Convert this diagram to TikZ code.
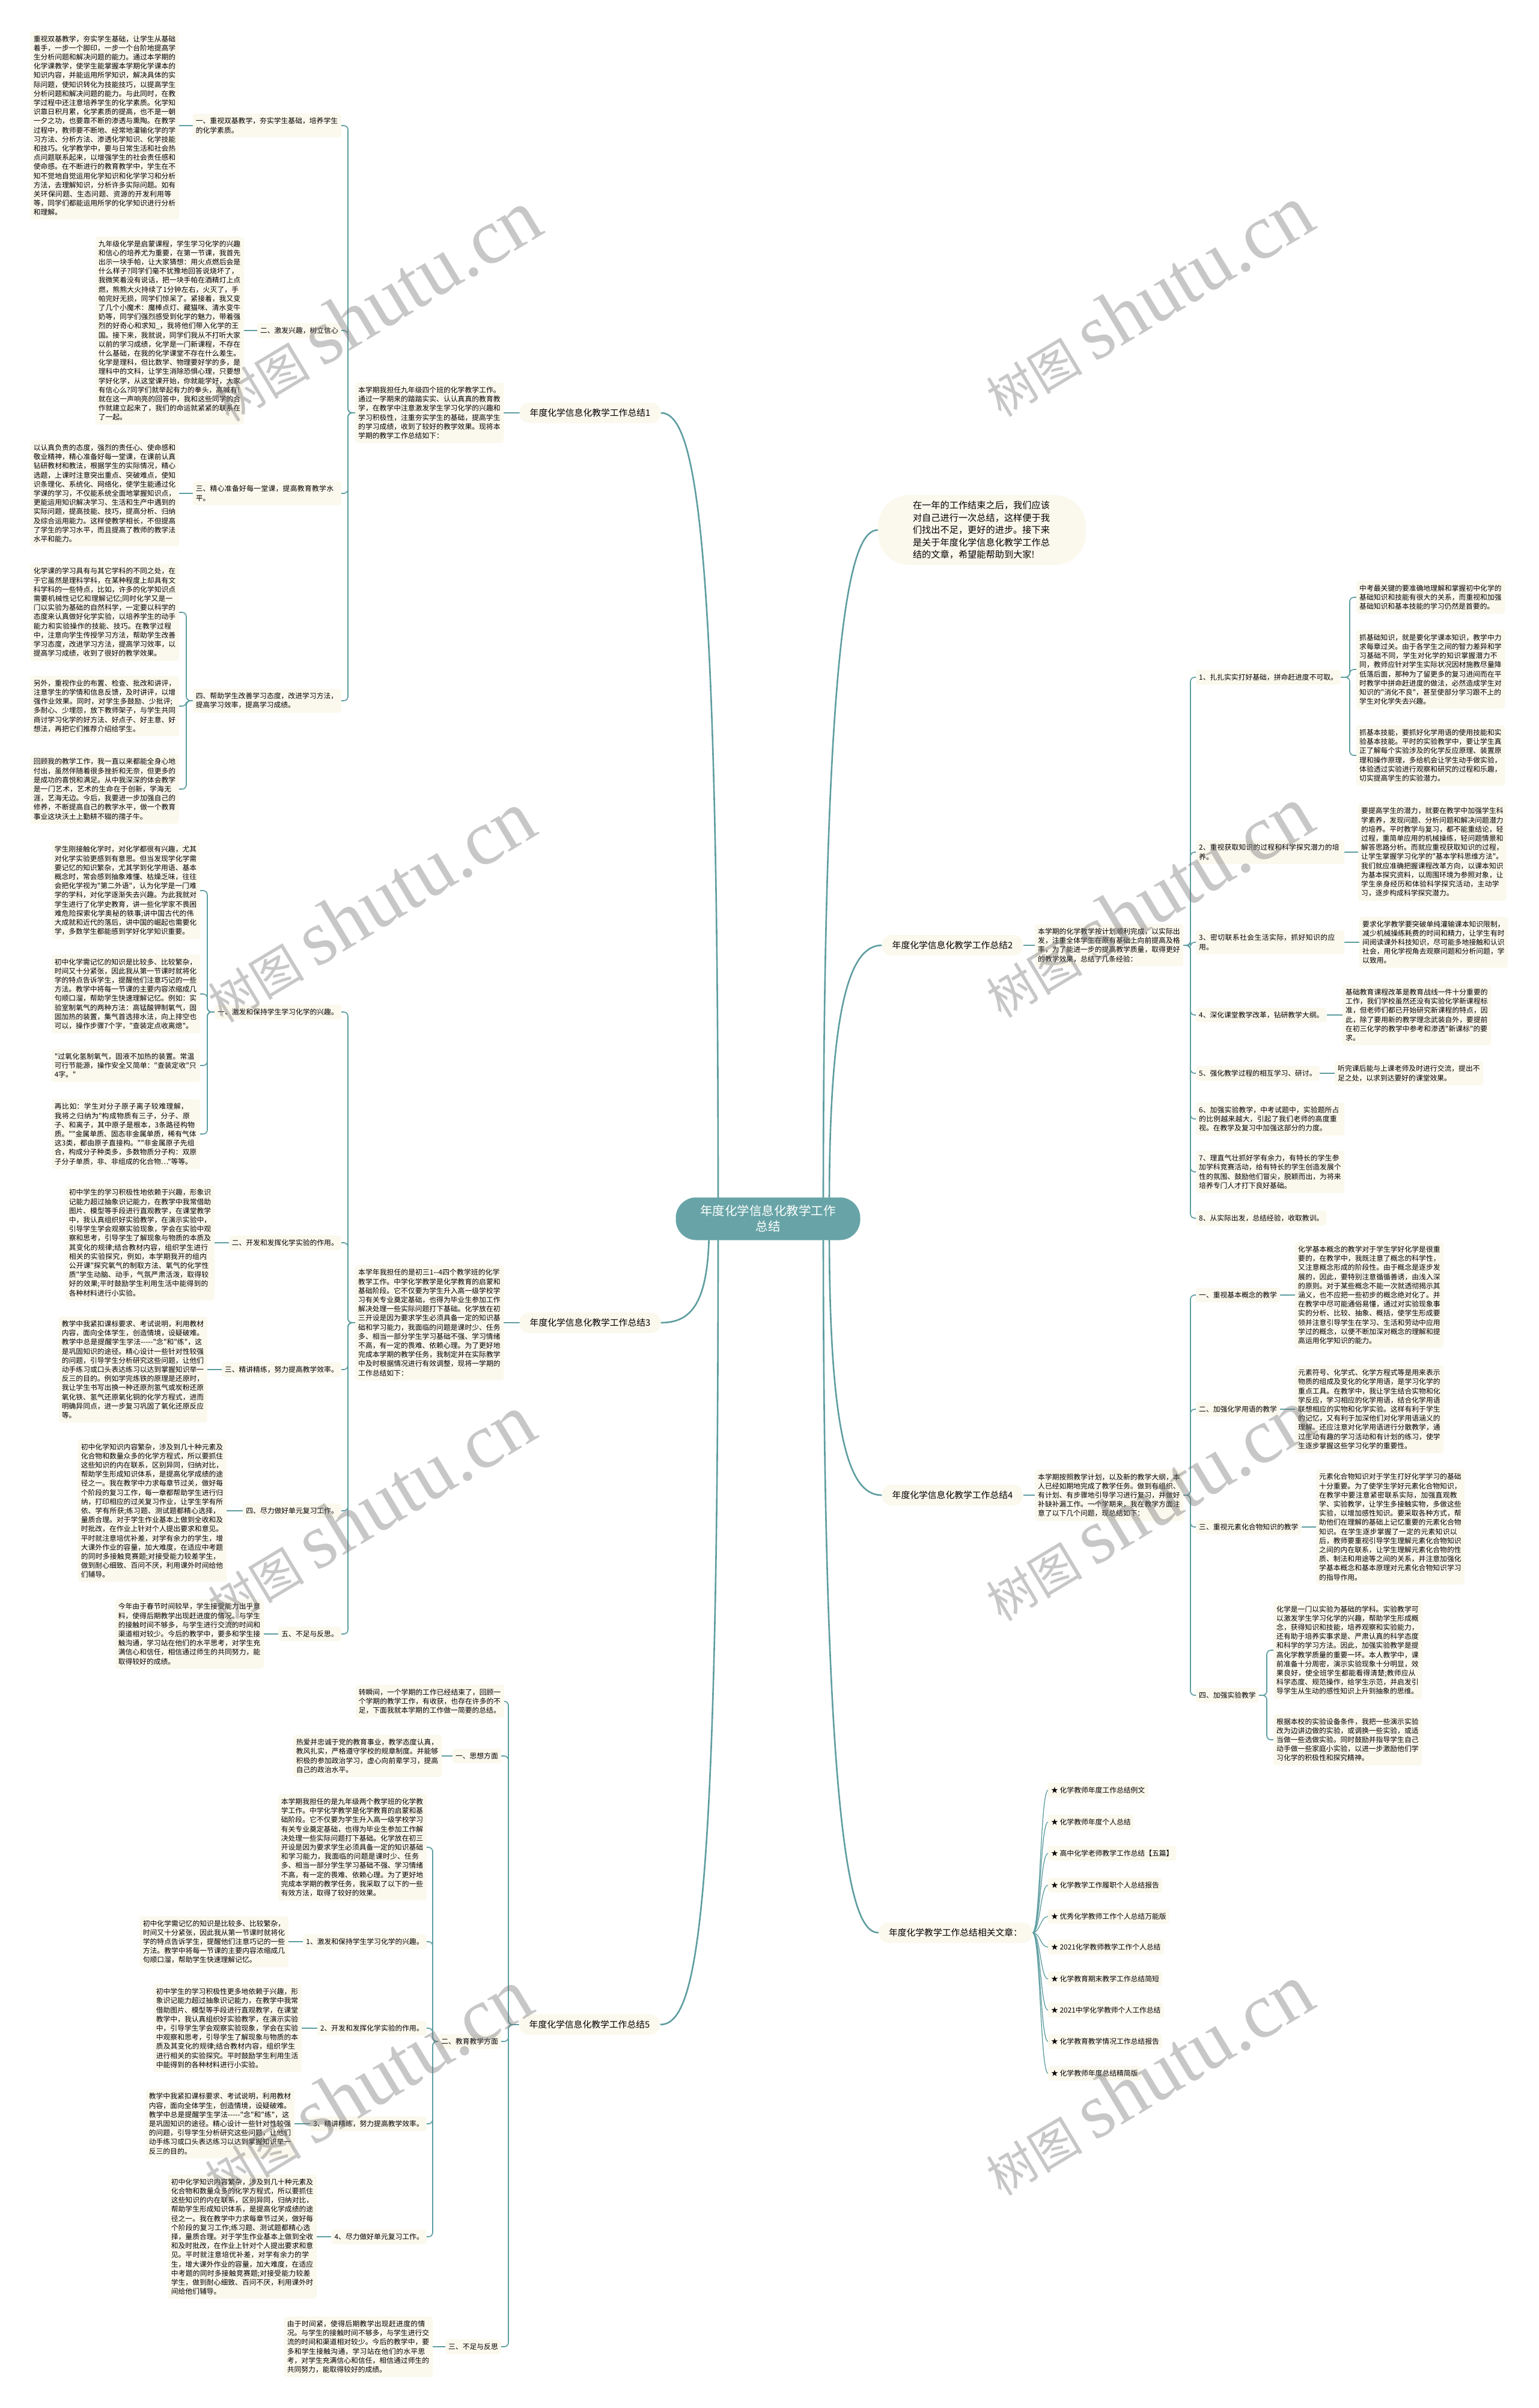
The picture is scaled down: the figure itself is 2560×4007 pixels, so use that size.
\documentclass[tikz,border=0pt]{standalone}
\usepackage{fontspec}
\newfontfamily\cjk[Ligatures=TeXOff]{Noto Sans CJK SC}
\newfontfamily\wmserif[Ligatures=TeXOff]{Liberation Serif}
\usetikzlibrary{backgrounds}
\XeTeXlinebreaklocale "zh"
\XeTeXlinebreakskip=0pt plus 1pt
\definecolor{linec}{RGB}{94,157,160}
\definecolor{boxf}{RGB}{251,248,237}
\definecolor{rootf}{RGB}{104,164,167}
\newcommand\bodyf{\cjk\fontsize{11.8}{15.2}\selectfont}
\newcommand\blabf{\cjk\fontsize{14.8}{18}\selectfont}
\newcommand\EdgeL[3]{\draw[conn] (#1.west) -- (#1.west -| #3) |- (#2.east);}
\newcommand\EdgeR[3]{\draw[conn] (#1.east) -- (#1.east -| #3) |- (#2.west);}
\newcommand\LineL[2]{\draw[conn] (#1.west) -- (#2.east);}
\newcommand\LineR[2]{\draw[conn] (#1.east) -- (#2.west);}
\tikzset{
  conn/.style={draw=linec, line width=1.7pt, rounded corners=7pt},
  mainc/.style={draw=linec, line width=2.6pt},
  box/.style={fill=boxf, rounded corners=4pt, inner xsep=5pt, inner ysep=6.5pt, font=\bodyf, align=left},
  txt/.style={box, text width=237pt},
  lab/.style={box},
  labw/.style={box, text width=237pt},
  blab/.style={fill=boxf, rounded corners=16pt, inner xsep=17pt, minimum height=34pt, font=\blabf},
  rootn/.style={fill=rootf, text=white, rounded corners=34pt, minimum width=307pt, minimum height=71pt, align=center, font={\cjk\fontsize{20.5}{26}\selectfont}},
  wm/.style={text=black!55, opacity=0.40, anchor=west, rotate=31, inner sep=0pt}
}
\begin{document}
\begin{tikzpicture}[x=1pt,y=-1pt]
\useasboundingbox (0,0) rectangle (2560,4007);

% ---------- root and first level ----------
\node[rootn] (root) at (1278,2028) {年度化学信息化教学工作\\总结};
\node[fill=boxf, rounded corners=52pt, minimum height=116pt, inner xsep=58pt, text width=230pt, align=left, font={\cjk\fontsize{15.2}{20.5}\selectfont}] (intro) at (1634,882)
 {在一年的工作结束之后，我们应该\\对自己进行一次总结，这样便于我\\们找出不足，更好的进步。接下来\\是关于年度化学信息化教学工作总\\结的文章，希望能帮助到大家!};
\node[blab] (B1) at (982,687) {年度化学信息化教学工作总结1};
\node[blab] (B2) at (1585,1573) {年度化学信息化教学工作总结2};
\node[blab] (B3) at (982,2201) {年度化学信息化教学工作总结3};
\node[blab] (B4) at (1585,2488) {年度化学信息化教学工作总结4};
\node[blab] (B5) at (981,3369) {年度化学信息化教学工作总结5};
\node[blab] (R) at (1590,3216) {年度化学教学工作总结相关文章：};

% ---------- branch 1 ----------
\coordinate (s1) at (579,0);
\coordinate (s14) at (310,0);
\node[txt, anchor=west] (I1) at (591,687) {本学期我担任九年级四个班的化学教学工作。通过一学期来的踏踏实实、认认真真的教育教学，在教学中注意激发学生学习化学的兴趣和学习积极性，注重夯实学生的基础，提高学生的学习成绩，收到了较好的教学效果。现将本学期的教学工作总结如下：};
\node[labw, anchor=east] (L11) at (568,209) {一、重视双基教学，夯实学生基础，培养学生的化学素质。};
\node[txt, anchor=east] (T11) at (298,209) {重视双基教学，夯实学生基础，让学生从基础着手，一步一个脚印，一步一个台阶地提高学生分析问题和解决问题的能力。通过本学期的化学课教学，使学生能掌握本学期化学课本的知识内容，并能运用所学知识，解决具体的实际问题，使知识转化为技能技巧，以提高学生分析问题和解决问题的能力。与此同时，在教学过程中还注意培养学生的化学素质。化学知识靠日积月累，化学素质的提高，也不是一朝一夕之功，也要靠不断的渗透与熏陶。在教学过程中，教师要不断地、经常地灌输化学的学习方法、分析方法、渗透化学知识、化学技能和技巧。化学教学中，要与日常生活和社会热点问题联系起来，以增强学生的社会责任感和使命感。在不断进行的教育教学中，学生在不知不觉地自觉运用化学知识和化学学习和分析方法，去理解知识，分析许多实际问题。如有关环保问题、生态问题、资源的开发利用等等，同学们都能运用所学的化学知识进行分析和理解。};
\node[lab, anchor=east] (L12) at (568,550) {二、激发兴趣，树立信心};
\node[txt, anchor=east] (T12) at (406,550) {九年级化学是启蒙课程，学生学习化学的兴趣和信心的培养尤为重要，在第一节课，我首先出示一块手帕，让大家猜想：用火点燃后会是什么样子?同学们毫不犹豫地回答说烧坏了，我微笑着没有说话，把一块手帕在酒精灯上点燃，熊熊大火持续了1分钟左右，火灭了，手帕完好无损，同学们惊呆了。紧接着，我又变了几个小魔术：魔棒点灯、藏猫咪、清水变牛奶等，同学们强烈感受到化学的魅力，带着强烈的好奇心和求知\_，我将他们带入化学的王国。接下来，我就说，同学们我从不打听大家以前的学习成绩，化学是一门新课程，不存在什么基础，在我的化学课堂不存在什么差生。化学是理科，但比数学、物理要好学的多，是理科中的文科，让学生消除恐惧心理，只要想学好化学，从这堂课开始，你就能学好，大家有信心么?同学们就举起有力的拳头，高喊有!就在这一声响亮的回答中，我和这些同学的合作就建立起来了，我们的命运就紧紧的联系在了一起。};
\node[labw, anchor=east] (L13) at (568,821) {三、精心准备好每一堂课，提高教育教学水平。};
\node[txt, anchor=east] (T13) at (298,821) {以认真负责的态度，强烈的责任心、使命感和敬业精神，精心准备好每一堂课，在课前认真钻研教材和教法，根据学生的实际情况，精心选题，上课时注意突出重点、突破难点，使知识条理化、系统化、网络化，使学生能通过化学课的学习，不仅能系统全面地掌握知识点，更能运用知识解决学习、生活和生产中遇到的实际问题，提高技能、技巧，提高分析、归纳及综合运用能力。这样使教学相长，不但提高了学生的学习水平，而且提高了教师的教学法水平和能力。};
\node[labw, anchor=east] (L14) at (568,1166) {四、帮助学生改善学习态度，改进学习方法，提高学习效率，提高学习成绩。};
\node[txt, anchor=east] (T14a) at (298,1019) {化学课的学习具有与其它学科的不同之处，在于它虽然是理科学科，在某种程度上却具有文科学科的一些特点，比如，许多的化学知识点需要机械性记忆和理解记忆;同时化学又是一门以实验为基础的自然科学，一定要以科学的态度来认真做好化学实验，以培养学生的动手能力和实验操作的技能、技巧。在教学过程中，注意向学生传授学习方法，帮助学生改善学习态度，改进学习方法，提高学习效率，以提高学习成绩，收到了很好的教学效果。};
\node[txt, anchor=east] (T14b) at (298,1175) {另外，重视作业的布置、检查、批改和讲评，注意学生的学情和信息反馈，及时讲评，以增强作业效果。同时，对学生多鼓励、少批评;多耐心、少埋怨，放下教师架子，与学生共同商讨学习化学的好方法、好点子、好主意、好想法，再把它们推荐介绍给学生。};
\node[txt, anchor=east] (T14c) at (298,1313) {回顾我的教学工作，我一直以来都能全身心地付出，虽然伴随着很多挫折和无奈，但更多的是成功的喜悦和满足。从中我深深的体会教学是一门艺术，艺术的生命在于创新，学海无涯，艺海无边。今后，我要进一步加强自己的修养，不断提高自己的教学水平，做一个教育事业这块沃土上勤耕不辍的孺子牛。};

% ---------- branch 3 ----------
\coordinate (s31) at (345,0);
\node[txt, anchor=west] (I3) at (591,2201) {本学年我担任的是初三1--4四个教学班的化学教学工作。中学化学教学是化学教育的启蒙和基础阶段。它不仅要为学生升入高一级学校学习有关专业奠定基础，也得为毕业生参加工作解决处理一些实际问题打下基础。化学放在初三开设是因为要求学生必须具备一定的知识基础和学习能力，我面临的问题是课时少、任务多、相当一部分学生学习基础不强、学习情绪不高，有一定的畏难、依赖心理。为了更好地完成本学期的教学任务，我制定并在实际教学中及时根据情况进行有效调整，现将一学期的工作总结如下：};
\node[lab, anchor=east] (L31) at (568,1684) {一、激发和保持学生学习化学的兴趣。};
\node[txt, anchor=east] (T31a) at (333,1482) {学生刚接触化学时，对化学都很有兴趣，尤其对化学实验更感到有意思。但当发现学化学需要记忆的知识繁杂，尤其学到化学用语、基本概念时，常会感到抽象难懂、枯燥乏味，往往会把化学视为"第二外语"，认为化学是一门难学的学科，对化学逐渐失去兴趣。为此我就对学生进行了化学史教育，讲一些化学家不畏困难危险探索化学奥秘的轶事;讲中国古代的伟大成就和近代的落后，讲中国的崛起也需要化学，多数学生都能感到学好化学知识重要。};
\node[txt, anchor=east] (T31b) at (333,1654) {初中化学需记忆的知识是比较多、比较繁杂，时间又十分紧张，因此我从第一节课时就将化学的特点告诉学生，提醒他们注意巧记的一些方法。教学中将每一节课的主要内容浓缩成几句顺口溜，帮助学生快速理解记忆。例如：实验室制氧气的两种方法：高锰酸钾制氧气，固固加热的装置，集气首选排水法，向上排空也可以，操作步骤7个字，"查装定点收离熄"。};
\node[txt, anchor=east] (T31c) at (333,1773) {"过氧化氢制氧气，固液不加热的装置。常温可行节能源，操作安全又简单："查装定收"只4字。"};
\node[txt, anchor=east] (T31d) at (333,1887) {再比如：学生对分子原子离子较难理解，我将之归纳为"构成物质有三子，分子、原子、和离子，其中原子是根本，3条路径构物质。""金属单质、固态非金属单质，稀有气体这3类，都由原子直接构。""非金属原子先组合，构成分子种类多，多数物质分子构：双原子分子单质，非、非组成的化合物…"等等。};
\node[lab, anchor=east] (L32) at (568,2068) {二、开发和发挥化学实验的作用。};
\node[txt, anchor=east] (T32) at (357,2068) {初中学生的学习积极性地依赖于兴趣，形象识记能力超过抽象识记能力，在教学中我常借助图片、模型等手段进行直观教学，在课堂教学中，我认真组织好实验教学，在演示实验中，引导学生学会观察实验现象，学会在实验中观察和思考，引导学生了解现象与物质的本质及其变化的规律;结合教材内容，组织学生进行相关的实验探究，例如，本学期我开的组内公开课"探究氧气的制取方法、氧气的化学性质"学生动脑、动手，气氛严肃活泼，取得较好的效果;平时鼓励学生利用生活中能得到的各种材料进行小实验。};
\node[lab, anchor=east] (L33) at (568,2279) {三、精讲精练，努力提高教学效率。};
\node[txt, anchor=east] (T33) at (345,2279) {教学中我紧扣课标要求、考试说明，利用教材内容，面向全体学生，创造情境，设疑破难。教学中总是提醒学生学法-----"念"和"练"，这是巩固知识的途径。精心设计一些针对性较强的问题，引导学生分析研究这些问题，让他们动手练习或口头表达练习以达到掌握知识举一反三的目的。例如学完炼铁的原理是还原时，我让学生书写出换一种还原剂氢气或炭粉还原氧化铁、氢气还原氧化铜的化学方程式，进而明确异同点，进一步复习巩固了氧化还原反应等。};
\node[lab, anchor=east] (L34) at (568,2514) {四、尽力做好单元复习工作。};
\node[txt, anchor=east] (T34) at (377,2514) {初中化学知识内容繁杂，涉及到几十种元素及化合物和数量众多的化学方程式，所以要抓住这些知识的内在联系，区别异同，归纳对比，帮助学生形成知识体系，是提高化学成绩的途径之一。我在教学中力求每章节过关，做好每个阶段的复习工作，每一章都帮助学生进行归纳，打印相应的过关复习作业，让学生学有所依、学有所获;练习题、测试题都精心选择，量质合理。对于学生作业基本上做到全收和及时批改，在作业上针对个人提出要求和意见。平时就注意培优补差，对学有余力的学生，增大课外作业的容量，加大难度，在适应中考题的同时多接触竞赛题;对接受能力较差学生，做到耐心细致、百问不厌，利用课外时间给他们辅导。};
\node[lab, anchor=east] (L35) at (568,2719) {五、不足与反思。};
\node[txt, anchor=east] (T35) at (439,2719) {今年由于春节时间较早，学生接受能力出乎意料，使得后期教学出现赶进度的情况。与学生的接触时间不够多，与学生进行交流的时间和渠道相对较少。今后的教学中，要多和学生接触沟通，学习站在他们的水平思考，对学生充满信心和信任，相信通过师生的共同努力，能取得较好的成绩。};

% ---------- branch 5 ----------
\coordinate (s5) at (846,0);
\coordinate (s52) at (720,0);
\node[txt, anchor=east] (T50) at (839,2831) {转瞬间，一个学期的工作已经结束了，回顾一个学期的教学工作，有收获，也存在许多的不足，下面我就本学期的工作做一简要的总结。};
\node[lab, anchor=east] (L51) at (834,2922) {一、思想方面};
\node[txt, anchor=east] (T51) at (735,2922) {热爱并忠诚于党的教育事业，教学态度认真，教风扎实，严格遵守学校的规章制度。并能够积极的参加政治学习，虚心向前辈学习，提高自己的政治水平。};
\node[lab, anchor=east] (L52) at (834,3397) {二、教育教学方面};
\node[txt, anchor=east] (T52a) at (710,3074) {本学期我担任的是九年级两个教学班的化学教学工作。中学化学教学是化学教育的启蒙和基础阶段。它不仅要为学生升入高一级学校学习有关专业奠定基础，也得为毕业生参加工作解决处理一些实际问题打下基础。化学放在初三开设是因为要求学生必须具备一定的知识基础和学习能力，我面临的问题是课时少、任务多、相当一部分学生学习基础不强、学习情绪不高，有一定的畏难、依赖心理。为了更好地完成本学期的教学任务，我采取了以下的一些有效方法，取得了较好的效果。};
\node[lab, anchor=east] (L521) at (710,3231) {1、激发和保持学生学习化学的兴趣。};
\node[txt, anchor=east] (T521) at (480,3231) {初中化学需记忆的知识是比较多、比较繁杂，时间又十分紧张，因此我从第一节课时就将化学的特点告诉学生，提醒他们注意巧记的一些方法。教学中将每一节课的主要内容浓缩成几句顺口溜，帮助学生快速理解记忆。};
\node[lab, anchor=east] (L522) at (710,3375) {2、开发和发挥化学实验的作用。};
\node[txt, anchor=east] (T522) at (502,3375) {初中学生的学习积极性更多地依赖于兴趣，形象识记能力超过抽象识记能力，在教学中我常借助图片、模型等手段进行直观教学，在课堂教学中，我认真组织好实验教学，在演示实验中，引导学生学会观察实验现象，学会在实验中观察和思考，引导学生了解现象与物质的本质及其变化的规律;结合教材内容，组织学生进行相关的实验探究。平时鼓励学生利用生活中能得到的各种材料进行小实验。};
\node[lab, anchor=east] (L523) at (710,3534) {3、精讲精练，努力提高教学效率。};
\node[txt, anchor=east] (T523) at (490,3534) {教学中我紧扣课标要求、考试说明，利用教材内容，面向全体学生，创造情境，设疑破难。教学中总是提醒学生学法-----"念"和"练"，这是巩固知识的途径。精心设计一些针对性较强的问题，引导学生分析研究这些问题，让他们动手练习或口头表达练习以达到掌握知识举一反三的目的。};
\node[lab, anchor=east] (L524) at (710,3722) {4、尽力做好单元复习工作。};
\node[txt, anchor=east] (T524) at (527,3722) {初中化学知识内容繁杂，涉及到几十种元素及化合物和数量众多的化学方程式，所以要抓住这些知识的内在联系，区别异同，归纳对比，帮助学生形成知识体系，是提高化学成绩的途径之一。我在教学中力求每章节过关，做好每个阶段的复习工作;练习题、测试题都精心选择，量质合理。对于学生作业基本上做到全收和及时批改，在作业上针对个人提出要求和意见。平时就注意培优补差，对学有余力的学生，增大课外作业的容量，加大难度，在适应中考题的同时多接触竞赛题;对接受能力较差学生，做到耐心细致、百问不厌，利用课外时间给他们辅导。};
\node[lab, anchor=east] (L53) at (834,3905) {三、不足与反思};
\node[txt, anchor=east] (T53) at (720,3905) {由于时间紧，使得后期教学出现赶进度的情况。与学生的接触时间不够多，与学生进行交流的时间和渠道相对较少。今后的教学中，要多和学生接触沟通，学习站在他们的水平思考，对学生充满信心和信任，相信通过师生的共同努力，能取得较好的成绩。};

% ---------- branch 2 ----------
\coordinate (s2) at (1981,0);
\coordinate (s21) at (2246,0);
\node[txt, anchor=west] (I2) at (1722,1573) {本学期的化学教学按计划顺利完成，以实际出发，注重全体学生在原有基础上向前提高及格率，为了能进一步的提高教学质量，取得更好的教学效果，总结了几条经验：};
\node[lab, anchor=west] (L21) at (1990,1127) {1、扎扎实实打好基础，拼命赶进度不可取。};
\node[txt, anchor=west] (T21a) at (2257,994) {中考最关键的要准确地理解和掌握初中化学的基础知识和技能有很大的关系，而重视和加强基础知识和基本技能的学习仍然是首要的。};
\node[txt, anchor=west] (T21b) at (2257,1114) {抓基础知识，就是要化学课本知识，教学中力求每章过关。由于各学生之间的智力差异和学习基础不同，学生对化学的知识掌握潜力不同，教师应针对学生实际状况因材施教尽量降低落后面，那种为了留更多的复习进间而在平时教学中拼命赶进度的做法，必然造成学生对知识的"消化不良"，甚至使部分学习跟不上的学生对化学失去兴趣。};
\node[txt, anchor=west] (T21c) at (2257,1257) {抓基本技能，要抓好化学用语的使用技能和实验基本技能。平时的实验教学中，要让学生真正了解每个实验涉及的化学反应原理、装置原理和操作原理，多给机会让学生动手做实验，体验透过实验进行观察和研究的过程和乐趣，切实提高学生的实验潜力。};
\node[labw, anchor=west] (L22) at (1990,1418) {2、重视获取知识的过程和科学探究潜力的培养。};
\node[txt, anchor=west] (T22) at (2260,1418) {要提高学生的潜力，就要在教学中加强学生科学素养，发现问题、分析问题和解决问题潜力的培养。平时教学与复习，都不能重结论，轻过程，重简单应用的机械操练，轻问题情景和解答思路分析。而就应重视获取知识的过程，让学生掌握学习化学的"基本学科思维方法"。我们就应准确把握课程改革方向，以课本知识为基本探究资料，以周围环境为参照对象，让学生亲身经历和体验科学探究活动，主动学习，逐步构成科学探究潜力。};
\node[labw, anchor=west] (L23) at (1990,1568) {3、密切联系社会生活实际，抓好知识的应用。};
\node[txt, anchor=west] (T23) at (2262,1568) {要求化学教学要突破单纯灌输课本知识限制，减少机械操练耗费的时间和精力，让学生有时间阅读课外科技知识，尽可能多地接触和认识社会，用化学视角去观察问题和分析问题，学以致用。};
\node[lab, anchor=west] (L24) at (1990,1689) {4、深化课堂教学改革，钻研教学大纲。};
\node[txt, anchor=west] (T24) at (2234,1689) {基础教育课程改革是教育战线一件十分重要的工作，我们学校虽然还没有实验化学新课程标准，但老师们都已开始研究新课程的特点，因此，除了要用新的教学理念武装自外，要提前在初三化学的教学中参考和渗透"新课标"的要求。};
\node[lab, anchor=west] (L25) at (1990,1786) {5、强化教学过程的相互学习、研讨。};
\node[txt, anchor=west] (T25) at (2221,1786) {听完课后能与上课老师及时进行交流，提出不足之处，以求到达要好的课堂效果。};
\node[labw, anchor=west] (L26) at (1990,1862) {6、加强实验教学，中考试题中，实验题所占的比例越来越大，引起了我们老师的高度重视。在教学及复习中加强这部分的力度。};
\node[labw, anchor=west] (L27) at (1990,1950) {7、理直气壮抓好学有余力，有特长的学生参加学科竞赛活动，给有特长的学生创造发展个性的氛围、鼓励他们冒尖，脱颖而出，为将来培养专门人才打下良好基础。};
\node[lab, anchor=west] (L28) at (1990,2027) {8、从实际出发，总结经验，收取教训。};

% ---------- branch 4 ----------
\coordinate (s44) at (2108,0);
\node[txt, anchor=west] (I4) at (1722,2488) {本学期按照教学计划，以及新的教学大纲，本人已经如期地完成了教学任务。做到有组织、有计划、有步骤地引导学习进行复习，并做好补缺补漏工作。一个学期来，我在教学方面注意了以下几个问题，现总结如下：};
\node[lab, anchor=west] (L41) at (1990,2155) {一、重视基本概念的教学};
\node[txt, anchor=west] (T41) at (2155,2155) {化学基本概念的教学对于学生学好化学是很重要的，在教学中，我既注意了概念的科学性，又注意概念形成的阶段性。由于概念是逐步发展的，因此，要特别注意循循善诱，由浅入深的原则。对于某些概念不能一次就透彻揭示其涵义，也不应把一些初步的概念绝对化了。并在教学中尽可能通俗易懂，通过对实验现象事实的分析、比较、抽象、概括，使学生形成要领并注意引导学生在学习、生活和劳动中应用学过的概念，以便不断加深对概念的理解和提高运用化学知识的能力。};
\node[lab, anchor=west] (L42) at (1990,2345) {二、加强化学用语的教学};
\node[txt, anchor=west] (T42) at (2155,2345) {元素符号、化学式、化学方程式等是用来表示物质的组成及变化的化学用语，是学习化学的重点工具。在教学中，我让学生结合实物和化学反应，学习相应的化学用语，结合化学用语联想相应的实物和化学实验。这样有利于学生的记忆，又有利于加深他们对化学用语涵义的理解。还应注意对化学用语进行分散教学，通过生动有趣的学习活动和有计划的练习，使学生逐步掌握这些学习化学的重要性。};
\node[lab, anchor=west] (L43) at (1990,2541) {三、重视元素化合物知识的教学};
\node[txt, anchor=west] (T43) at (2190,2541) {元素化合物知识对于学生打好化学学习的基础十分重要。为了使学生学好元素化合物知识，在教学中要注意紧密联系实际，加强直观教学、实验教学，让学生多接触实物，多做这些实验，以增加感性知识。要采取各种方式，帮助他们在理解的基础上记忆重要的元素化合物知识。在学生逐步掌握了一定的元素知识以后，教师要重视引导学生理解元素化合物知识之间的内在联系，让学生理解元素化合物的性质、制法和用途等之间的关系，并注意加强化学基本概念和基本原理对元素化合物知识学习的指导作用。};
\node[lab, anchor=west] (L44) at (1990,2821) {四、加强实验教学};
\node[txt, anchor=west] (T44a) at (2119,2746) {化学是一门以实验为基础的学科。实验教学可以激发学生学习化学的兴趣，帮助学生形成概念，获得知识和技能，培养观察和实验能力，还有助于培养实事求是、严肃认真的科学态度和科学的学习方法。因此，加强实验教学是提高化学教学质量的重要一环。本人教学中，课前准备十分周密，演示实验现象十分明显，效果良好，使全班学生都能看得清楚;教师应从科学态度、规范操作，给学生示范，并启发引导学生从生动的感性知识上升到抽象的思维。};
\node[txt, anchor=west] (T44b) at (2119,2895) {根据本校的实验设备条件，我把一些演示实验改为边讲边做的实验，或调换一些实验，或适当做一些选做实验。同时鼓励并指导学生自己动手做一些家庭小实验，以进一步激励他们学习化学的积极性和探究精神。};

% ---------- related articles ----------
\node[box, anchor=west] (R1) at (1744,2979) {★ 化学教师年度工作总结例文};
\node[box, anchor=west] (R2) at (1744,3032) {★ 化学教师年度个人总结};
\node[box, anchor=west] (R3) at (1744,3084) {★ 高中化学老师教学工作总结【五篇】};
\node[box, anchor=west] (R4) at (1744,3137) {★ 化学教学工作履职个人总结报告};
\node[box, anchor=west] (R5) at (1744,3189) {★ 优秀化学教师工作个人总结万能版};
\node[box, anchor=west] (R6) at (1744,3240) {★ 2021化学教师教学工作个人总结};
\node[box, anchor=west] (R7) at (1744,3293) {★ 化学教育期末教学工作总结简短};
\node[box, anchor=west] (R8) at (1744,3345) {★ 2021中学化学教师个人工作总结};
\node[box, anchor=west] (R9) at (1744,3397) {★ 化学教育教学情况工作总结报告};
\node[box, anchor=west] (R10) at (1744,3450) {★ 化学教师年度总结精简版};

% ---------- connectors ----------
\begin{scope}[on background layer]
\fill[white] (0,0) rectangle (2560,4007);
\draw[mainc] (1195,2005) .. controls (1195,900) and (1160,687) .. (B1.east);
\draw[mainc] (1180,2040) .. controls (1180,2170) and (1150,2201) .. (B3.east);
\draw[mainc] (1195,2050) .. controls (1195,3200) and (1160,3369) .. (B5.east);
\draw[mainc] (1370,2005) .. controls (1370,1000) and (1420,882) .. (intro.west);
\draw[mainc] (1380,2005) .. controls (1380,1650) and (1420,1573) .. (B2.west);
\draw[mainc] (1380,2050) .. controls (1380,2420) and (1420,2488) .. (B4.west);
\draw[mainc] (1370,2050) .. controls (1370,3100) and (1420,3216) .. (R.west);
% branch 1
\LineL{B1}{I1}
\EdgeL{I1}{L11}{s1} \EdgeL{I1}{L12}{s1} \EdgeL{I1}{L13}{s1} \EdgeL{I1}{L14}{s1}
\LineL{L11}{T11} \LineL{L12}{T12} \LineL{L13}{T13}
\EdgeL{L14}{T14a}{s14} \EdgeL{L14}{T14b}{s14} \EdgeL{L14}{T14c}{s14}
% branch 3
\LineL{B3}{I3}
\EdgeL{I3}{L31}{s1} \EdgeL{I3}{L32}{s1} \EdgeL{I3}{L33}{s1} \EdgeL{I3}{L34}{s1} \EdgeL{I3}{L35}{s1}
\EdgeL{L31}{T31a}{s31} \EdgeL{L31}{T31b}{s31} \EdgeL{L31}{T31c}{s31} \EdgeL{L31}{T31d}{s31}
\LineL{L32}{T32} \LineL{L33}{T33} \LineL{L34}{T34} \LineL{L35}{T35}
% branch 5
\EdgeL{B5}{T50}{s5} \EdgeL{B5}{L51}{s5} \EdgeL{B5}{L52}{s5} \EdgeL{B5}{L53}{s5}
\LineL{L51}{T51} \LineL{L53}{T53}
\EdgeL{L52}{T52a}{s52} \EdgeL{L52}{L521}{s52} \EdgeL{L52}{L522}{s52} \EdgeL{L52}{L523}{s52} \EdgeL{L52}{L524}{s52}
\LineL{L521}{T521} \LineL{L522}{T522} \LineL{L523}{T523} \LineL{L524}{T524}
% branch 2
\LineR{B2}{I2}
\EdgeR{I2}{L21}{s2} \EdgeR{I2}{L22}{s2} \EdgeR{I2}{L23}{s2} \EdgeR{I2}{L24}{s2}
\EdgeR{I2}{L25}{s2} \EdgeR{I2}{L26}{s2} \EdgeR{I2}{L27}{s2} \EdgeR{I2}{L28}{s2}
\EdgeR{L21}{T21a}{s21} \EdgeR{L21}{T21b}{s21} \EdgeR{L21}{T21c}{s21}
\LineR{L22}{T22} \LineR{L23}{T23} \LineR{L24}{T24} \LineR{L25}{T25}
% branch 4
\LineR{B4}{I4}
\EdgeR{I4}{L41}{s2} \EdgeR{I4}{L42}{s2} \EdgeR{I4}{L43}{s2} \EdgeR{I4}{L44}{s2}
\LineR{L41}{T41} \LineR{L42}{T42} \LineR{L43}{T43}
\EdgeR{L44}{T44a}{s44} \EdgeR{L44}{T44b}{s44}
% related
\foreach \r in {R1,R2,R3,R4,R5,R6,R7,R8,R9,R10}
  \draw[draw=linec, line width=1.3pt] (R.east) .. controls +(13,0) and +(-13,0) .. (\r.west);
\end{scope}

% ---------- watermarks ----------
\foreach \wx/\wy in {360/668, 1645/660, 350/1668, 1645/1660, 350/2672, 1645/2664, 345/3628, 1645/3620}
  \node[wm] at (\wx,\wy) {{\cjk\fontsize{80}{80}\selectfont 树图}\hspace{20pt}{\wmserif\fontsize{130}{130}\selectfont shutu.cn}};
\end{tikzpicture}
\end{document}
